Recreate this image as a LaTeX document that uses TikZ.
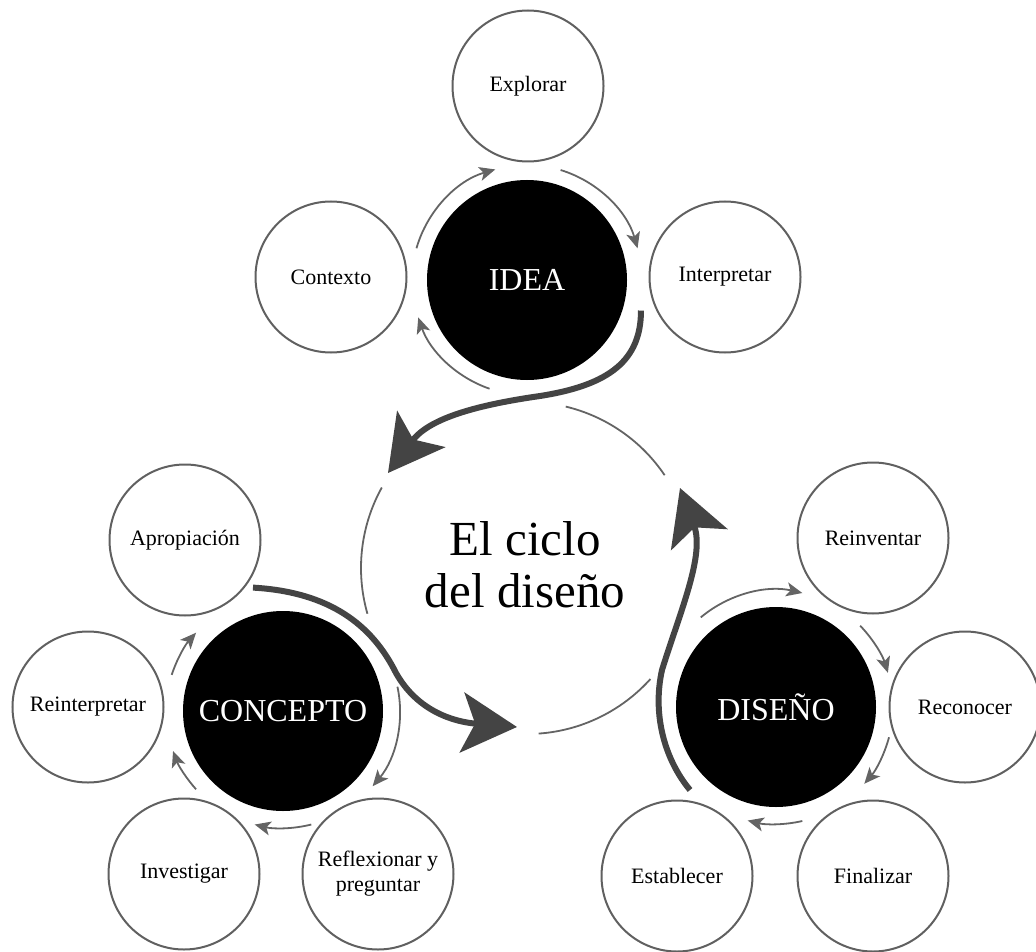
\documentclass[tikz,border=0pt]{standalone}
\usepackage{fontspec}
\setmainfont{Liberation Serif}
\usetikzlibrary{arrows.meta}
\definecolor{ringgray}{HTML}{606060}
\definecolor{arcgray}{HTML}{646464}
\definecolor{biggray}{HTML}{444444}
\begin{document}
\begin{tikzpicture}[x=1pt,y=-1pt,
  sat/.style={circle,draw=ringgray,line width=2pt,minimum size=151pt,inner sep=0pt,
    font=\fontsize{22}{25}\selectfont,align=center},
  hub/.style={circle,fill=black,minimum size=200pt,inner sep=0pt,text=white,
    font=\fontsize{32}{36}\selectfont},
  smallarc/.style={draw=arcgray,line width=1.8pt,-{Stealth[length=16pt,width=14pt,inset=4pt]}},
  centerarc/.style={draw=arcgray,line width=1.8pt},
  bigarrow/.style={draw=biggray,line width=6pt,-{Stealth[length=55pt,width=60pt,inset=13pt]}}
]
\useasboundingbox (0,0) rectangle (1036,952);

% IDEA group
\node[hub] (idea) at (527,280) {IDEA};
\node[sat] (explorar) at (528,86) {Explorar};
\node[sat] (contexto) at (331,277) {Contexto};
\node[sat] (interpretar) at (725,277) {Interpretar};

% CONCEPTO group
\node[hub] (concepto) at (283,711) {CONCEPTO};
\node[sat] (apropiacion) at (185,540) {Apropiación};
\node[sat] (reinterpretar) at (88,707) {Reinterpretar};
\node[sat] (investigar) at (184,874) {Investigar};
\node[sat] (reflexionar) at (378,874) {Reflexionar y\\preguntar};

% DISEÑO group
\node[hub] (diseno) at (776,707) {DISEÑO};
\node[sat] (reinventar) at (873,538) {Reinventar};
\node[sat] (reconocer) at (965,707) {Reconocer};
\node[sat] (finalizar) at (873,876) {Finalizar};
\node[sat] (establecer) at (677,876) {Establecer};

% centre
\coordinate (centro) at (527,568);
\node[font=\fontsize{49}{52}\selectfont,align=center] (ciclo) at (525,565) {El ciclo\\del diseño};

% arcs of the central circle
\draw[centerarc] ([shift={(-76.5:166)}]centro) arc[start angle=-76.5,end angle=-34,radius=166];
\draw[centerarc] ([shift={(-151:166)}]centro) arc[start angle=-151,end angle=-196,radius=166];
\draw[centerarc] ([shift={(86:166)}]centro) arc[start angle=86,end angle=42,radius=166];

% small arcs around IDEA
\draw[smallarc] ([shift={(-164:115)}]idea.center) arc[start angle=-164,end angle=-106,radius=115];
\draw[smallarc] ([shift={(-73:115)}]idea.center) arc[start angle=-73,end angle=-16,radius=115];
\draw[smallarc] ([shift={(-251:115)}]idea.center) arc[start angle=-251,end angle=-199,radius=115];

% small arcs around CONCEPTO
\draw[smallarc] ([shift={(-162:117)}]concepto.center) arc[start angle=-162,end angle=-138,radius=117];
\draw[smallarc] ([shift={(-222:117)}]concepto.center) arc[start angle=-222,end angle=-200,radius=117];
\draw[smallarc] ([shift={(-284:117)}]concepto.center) arc[start angle=-284,end angle=-256,radius=117];
\draw[smallarc] ([shift={(-12:117)}]concepto.center) arc[start angle=-12,end angle=40,radius=117];

% small arcs around DISEÑO
\draw[smallarc] ([shift={(-130:117)}]diseno.center) arc[start angle=-130,end angle=-77,radius=117];
\draw[smallarc] ([shift={(-44:117)}]diseno.center) arc[start angle=-44,end angle=-17,radius=117];
\draw[smallarc] ([shift={(15:117)}]diseno.center) arc[start angle=15,end angle=41,radius=117];
\draw[smallarc] ([shift={(77:117)}]diseno.center) arc[start angle=77,end angle=104,radius=117];

% big arrows
\coordinate (t1) at (388,473);
\coordinate (t2) at (517,727);
\coordinate (t3) at (680,488);
\draw[bigarrow] ([shift={(15:118)}]idea.center)
  .. controls (641,360) and (610,385) .. (540,396)
  .. controls (470,406) and (428,420) .. (t1);
\draw[bigarrow] ([shift={(35:83)}]apropiacion.center)
  .. controls (330,592) and (372,625) .. (396,673)
  .. controls (418,712) and (455,722) .. (t2);
\draw[bigarrow] ([shift={(136:119.5)}]diseno.center)
  .. controls (665,760) and (652,715) .. (662,670)
  .. controls (680,612) and (705,555) .. (t3);
\end{tikzpicture}
\end{document}
